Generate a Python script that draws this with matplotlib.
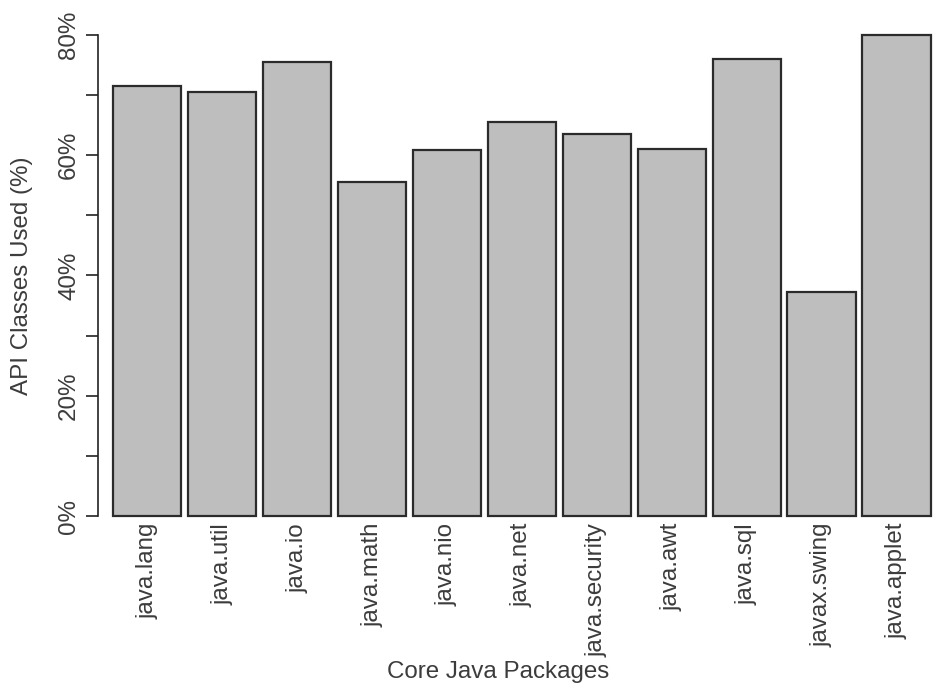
import matplotlib
matplotlib.use("Agg")
import matplotlib.pyplot as plt
import numpy as np

packages = ["java.lang", "java.util", "java.io", "java.math", "java.nio", "java.net",
            "java.security", "java.awt", "java.sql", "javax.swing", "java.applet"]
used_pct = [71.6, 70.5, 75.5, 55.5, 60.8, 65.5, 63.5, 61.1, 76.0, 37.3, 80.0]
y_ticks = [0, 10, 20, 30, 40, 50, 60, 70, 80]
y_labels = ["0%", "", "20%", "", "40%", "", "60%", "", "80%"]

W, H = 936, 695
plt.rcParams['font.family'] = ['Liberation Sans', 'DejaVu Sans']
text_col = '#3c3c3c'
fig = plt.figure(figsize=(W / 100, H / 100), dpi=100)

left_px, right_px = 113.3, 930.5
top_px, bot_px = 35, 516
ax = fig.add_axes([left_px / W, (H - bot_px) / H, (right_px - left_px) / W, (bot_px - top_px) / H])

x = 0.6 + 1.1 * np.arange(len(packages))
bars = ax.bar(x, used_pct, width=1.0, color='#bebebe', edgecolor='#2b2b2b', linewidth=1.6)
for b in bars:
    b.set_clip_on(False)
ax.set_xlim(0.1, 12.1)
ax.set_ylim(0, 80)

for s in ['top', 'right', 'bottom']:
    ax.spines[s].set_visible(False)
ax.spines['left'].set_position(('outward', (left_px - 98) * 0.72))
ax.spines['left'].set_bounds(0, 80)
ax.spines['left'].set_color('#222222')
ax.spines['left'].set_linewidth(1.2)

ax.set_yticks(y_ticks)
ax.set_yticklabels(y_labels, rotation=90, va='center', fontsize=17.4, color=text_col)
ax.tick_params(axis='y', length=8.6, width=1.2, color='#222222', pad=4.3)

ax.set_xticks(x)
ax.set_xticklabels(packages, rotation=90, fontsize=17.4, color=text_col)
ax.tick_params(axis='x', length=0, pad=5)

fig.text(22 / W, 1 - 275.5 / H, "API Classes Used (%)", rotation=90, ha='center', va='center',
         fontsize=17.4, color=text_col)
fig.text(498 / W, 1 - 672 / H, "Core Java Packages", ha='center', va='center',
         fontsize=17.4, color=text_col)

fig.savefig("out.png", dpi=100)
